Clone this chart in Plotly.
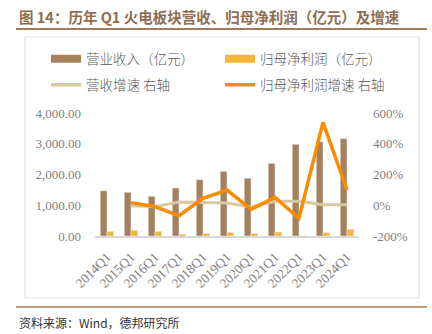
import plotly.graph_objects as go

# Q1 thermal power sector: revenue, net profit attributable to parent, and growth rates
quarters = ["2014Q1", "2015Q1", "2016Q1", "2017Q1", "2018Q1", "2019Q1",
            "2020Q1", "2021Q1", "2022Q1", "2023Q1", "2024Q1"]
revenue = [1473, 1420, 1290, 1561, 1831, 2104, 1875, 2363, 2981, 3068, 3165]
net_profit = [152, 184, 152, 54, 87, 119, 87, 130, 12, 108, 217]
revenue_growth = [None, -4, -9, 21, 17, 15, -11, 26, 26, 3, 3]
profit_growth = [None, 17, -9, -68, 45, 99, -27, 51, -85, 539, 99]

left_ticks = [0, 1000, 2000, 3000, 4000]
right_ticks = [-200, 0, 200, 400, 600]
right_tick_text = ["-200%", "0%", "200%", "400%", "600%"]

W, H = 432, 334
L, R, T, B = 95, 359, 113, 236  # plot area in pixels


def px(x):
    return (x - L) / (R - L)


def py(y):
    return (B - y) / (B - T)


BROWN = "#A6805A"
GOLD = "#F5B537"
TAN = "#D9C9A2"
ORANGE = "#FA8C00"
GRAY_TXT = "#7F7F7F"
LEGEND_FONT = dict(family="Noto Sans CJK SC", size=13.5, color="#595959", weight=300)

fig = go.Figure()

fig.add_trace(go.Bar(x=quarters, y=revenue, name="营业收入（亿元）",
                     marker_color=BROWN, showlegend=False))
fig.add_trace(go.Bar(x=quarters, y=net_profit, name="归母净利润（亿元）",
                     marker_color=GOLD, showlegend=False))
fig.add_trace(go.Scatter(x=quarters, y=revenue_growth, name="营收增速 右轴",
                         mode="lines", line=dict(color=TAN, width=3),
                         yaxis="y2", showlegend=False))
fig.add_trace(go.Scatter(x=quarters, y=profit_growth, name="归母净利润增速 右轴",
                         mode="lines", line=dict(color=ORANGE, width=3.5),
                         yaxis="y2", showlegend=False))

# legend entries laid out as a 2x2 grid, one legend box per entry
legend_items = [("营业收入（亿元）", BROWN, 8, "legend", 46, 59),
                ("归母净利润（亿元）", GOLD, 8, "legend2", 220, 59),
                ("营收增速 右轴", TAN, 3.5, "legend3", 46, 85),
                ("归母净利润增速 右轴", ORANGE, 3.5, "legend4", 220, 85)]
legend_layouts = {}
for name, color, width, leg, lx, ly in legend_items:
    fig.add_trace(go.Scatter(x=[None], y=[None], name=name, mode="lines",
                             line=dict(color=color, width=width), legend=leg,
                             showlegend=True, hoverinfo="skip"))
    legend_layouts[leg] = dict(x=px(lx), y=py(ly), xanchor="left", yanchor="middle",
                               orientation="h", font=LEGEND_FONT,
                               bgcolor="rgba(0,0,0,0)", itemsizing="trace")

shapes = [
    # title underline
    dict(type="line", xref="paper", yref="paper", x0=px(16), x1=px(427),
         y0=py(29), y1=py(29), line=dict(color="#A27B57", width=2)),
    # chart frame
    dict(type="rect", xref="paper", yref="paper", x0=px(25), x1=px(419),
         y0=py(298), y1=py(37), line=dict(color="#E3E3E3", width=1.2)),
    # source separator
    dict(type="line", xref="paper", yref="paper", x0=px(16), x1=px(427),
         y0=py(307), y1=py(307), line=dict(color="#A27B57", width=1.5)),
]

annotations = [
    dict(text="<b>图 14：历年 Q1 火电板块营收、归母净利润（亿元）及增速</b>",
         xref="paper", yref="paper", x=px(17), y=py(16), xanchor="left",
         yanchor="middle", showarrow=False,
         font=dict(family="Noto Sans CJK SC", size=14.5, color="#8E6D50")),
    dict(text="资料来源：Wind，德邦研究所",
         xref="paper", yref="paper", x=px(17), y=py(322), xanchor="left",
         yanchor="middle", showarrow=False,
         font=dict(family="Noto Sans CJK SC", size=12, color="#333333")),
]

fig.update_layout(
    width=W, height=H,
    margin=dict(l=L, r=W - R, t=T, b=H - B, pad=0),
    paper_bgcolor="white", plot_bgcolor="white",
    barmode="group", bargap=0.44, bargroupgap=0.0,
    font=dict(family="Liberation Serif", color=GRAY_TXT),
    xaxis=dict(type="category", tickangle=-45, showgrid=False,
               showline=True, linecolor="#D9D9D9", linewidth=1.5,
               ticks="", ticklabelstandoff=6,
               tickfont=dict(family="Liberation Serif", size=13.5, color=GRAY_TXT)),
    yaxis=dict(range=[0, 4000], tickvals=left_ticks, tickformat=",.2f",
               showgrid=False, zeroline=False, showline=False, ticks="",
               ticklabelstandoff=13,
               tickfont=dict(family="Liberation Serif", size=13, color=GRAY_TXT)),
    yaxis2=dict(range=[-200, 600], tickvals=right_ticks, ticktext=right_tick_text,
                overlaying="y", side="right", showgrid=False, zeroline=False,
                showline=False, ticks="", ticklabelstandoff=13,
                tickfont=dict(family="Liberation Serif", size=13, color=GRAY_TXT)),
    shapes=shapes,
    annotations=annotations,
    showlegend=True,
    **legend_layouts,
)

fig.write_html("out.html")
